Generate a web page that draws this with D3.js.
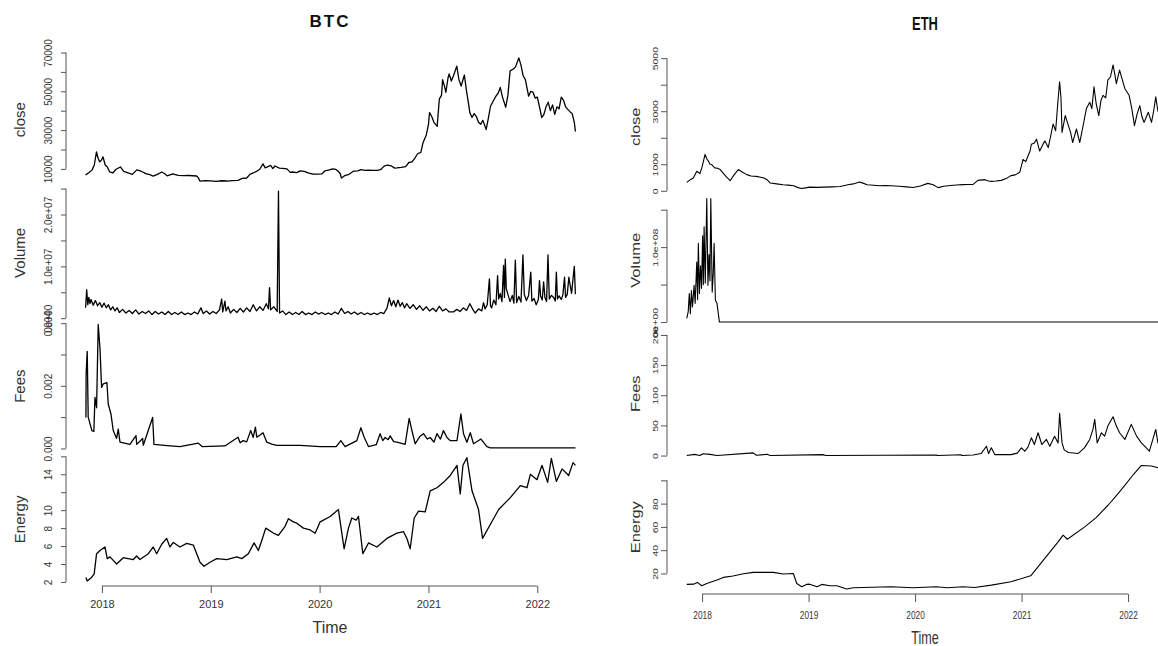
<!DOCTYPE html>
<html>
<head>
<meta charset="utf-8">
<title>BTC / ETH time series</title>
<script src="https://d3js.org/d3.v7.min.js"></script>
<style>
    body { margin:0; background:#fff; }
    svg { display:block; font-family:"Liberation Sans", Arial, sans-serif; }
    /* the series lines */
    .series { fill:none; stroke:#000; stroke-linejoin:round; }
    .axis-line { stroke:#555; stroke-width:1; }
    .panel-label { fill:#333; }
    .title { font-weight:bold; fill:#111; }
</style>
</head>
<body>
<svg id="chart" width="1158" height="646"></svg>
<script>
// ---- data (decimal year, value) ----
const yearTicks = [2018, 2019, 2020, 2021, 2022];
const panelNames = ['close', 'Volume', 'Fees', 'Energy'];

const btcClose = [[2017.85,6900],[2017.88,8000],[2017.91,9500],[2017.93,12000],[2017.95,18800],[2017.965,15500],[2017.98,13600],
    [2017.995,14500],[2018.01,16200],[2018.03,12000],[2018.05,11000],[2018.07,8500],[2018.10,7900],[2018.13,9800],[2018.17,11000],
    [2018.20,8700],[2018.24,8000],[2018.28,7200],[2018.32,9500],[2018.36,8800],[2018.41,7400],[2018.44,7000],[2018.47,6300],
    [2018.51,7200],[2018.55,8400],[2018.58,7400],[2018.60,6400],[2018.65,7400],[2018.70,6700],[2018.75,6500],[2018.80,6600],
    [2018.87,6350],[2018.885,5500],[2018.90,3750],[2018.95,4000],[2019.0,3800],[2019.05,3600],[2019.10,3900],[2019.15,3750],
    [2019.20,4000],[2019.25,4100],[2019.29,5100],[2019.33,5300],[2019.36,7200],[2019.39,7900],[2019.42,8700],[2019.45,9800],
    [2019.48,12600],[2019.50,10500],[2019.52,11000],[2019.55,11800],[2019.57,10200],[2019.59,11500],[2019.63,10400],[2019.66,10300],
    [2019.70,10000],[2019.73,8200],[2019.75,8400],[2019.79,8100],[2019.82,9000],[2019.86,8700],[2019.90,7800],[2019.94,7300],
    [2019.98,7300],[2020.02,7400],[2020.05,9000],[2020.09,9500],[2020.12,10000],[2020.15,9700],[2020.17,8800],[2020.19,7500],
    [2020.20,5300],[2020.23,6500],[2020.27,7200],[2020.31,8800],[2020.35,9000],[2020.38,9600],[2020.42,9200],[2020.45,9400],
    [2020.49,9200],[2020.53,9200],[2020.56,9600],[2020.59,11300],[2020.62,12000],[2020.66,11500],[2020.69,10400],[2020.71,10500],
    [2020.75,10800],[2020.79,11200],[2020.82,13300],[2020.85,13600],[2020.88,16000],[2020.90,17800],[2020.93,18500],[2020.95,23500],
    [2020.98,27500],[2021.0,33000],[2021.01,39000],[2021.03,37000],[2021.05,34000],[2021.08,31900],[2021.10,46000],[2021.12,48000],
    [2021.13,56000],[2021.15,52000],[2021.16,49500],[2021.18,57000],[2021.19,59000],[2021.21,55300],[2021.23,58000],[2021.26,63000],
    [2021.28,56000],[2021.30,52700],[2021.32,56500],[2021.33,58400],[2021.35,50000],[2021.37,43000],[2021.38,39000],[2021.40,36500],
    [2021.42,38500],[2021.44,37000],[2021.46,34000],[2021.48,33000],[2021.50,35000],[2021.53,30300],[2021.55,36000],[2021.57,42300],
    [2021.60,45500],[2021.62,47500],[2021.64,49000],[2021.66,52000],[2021.68,47000],[2021.71,41800],[2021.73,48000],[2021.75,60500],
    [2021.78,61500],[2021.80,62600],[2021.83,67200],[2021.85,63500],[2021.87,58000],[2021.89,56000],[2021.92,47500],[2021.94,50000],
    [2021.96,49600],[2021.98,46500],[2022.0,47000],[2022.02,42000],[2022.04,36500],[2022.06,38000],[2022.08,42000],[2022.10,44400],
    [2022.12,40000],[2022.14,43000],[2022.16,38100],[2022.18,42000],[2022.20,41000],[2022.22,47000],[2022.24,45500],[2022.26,42000],
    [2022.28,40700],[2022.30,39500],[2022.32,38500],[2022.34,34000],[2022.35,29300]];

const btcVolume = [[2017.85,2.0e6],[2017.86,5.5e6],[2017.87,2.6e6],[2017.88,4.0e6],[2017.89,2.8e6],[2017.90,3.6e6],[2017.92,2.5e6],
    [2017.94,3.4e6],[2017.96,2.4e6],[2017.98,3.0e6],[2018.0,2.1e6],[2018.02,2.9e6],[2018.04,2.0e6],[2018.06,2.6e6],[2018.08,1.6e6],
    [2018.10,2.2e6],[2018.12,1.4e6],[2018.14,2.0e6],[2018.16,1.1e6],[2018.19,1.7e6],[2018.22,1.0e6],[2018.25,1.5e6],[2018.28,0.9e6],
    [2018.31,1.6e6],[2018.34,0.8e6],[2018.37,1.3e6],[2018.40,0.9e6],[2018.43,1.4e6],[2018.46,0.7e6],[2018.49,1.3e6],[2018.52,0.8e6],
    [2018.55,1.2e6],[2018.58,0.7e6],[2018.61,1.3e6],[2018.64,0.7e6],[2018.67,1.1e6],[2018.70,0.7e6],[2018.73,1.2e6],[2018.76,0.7e6],
    [2018.79,1.0e6],[2018.82,0.7e6],[2018.85,1.2e6],[2018.88,0.8e6],[2018.91,2.0e6],[2018.93,0.9e6],[2018.96,1.4e6],[2018.99,0.8e6],
    [2019.02,1.3e6],[2019.05,0.9e6],[2019.08,1.6e6],[2019.10,3.7e6],[2019.11,1.2e6],[2019.13,3.3e6],[2019.14,1.4e6],[2019.16,2.2e6],
    [2019.18,1.0e6],[2019.21,1.7e6],[2019.24,1.1e6],[2019.27,1.9e6],[2019.30,1.2e6],[2019.33,2.0e6],[2019.36,1.3e6],[2019.39,2.6e6],
    [2019.42,1.4e6],[2019.45,2.2e6],[2019.48,1.5e6],[2019.51,2.8e6],[2019.53,1.8e6],[2019.54,5.9e6],[2019.55,1.6e6],[2019.58,2.2e6],
    [2019.61,1.3e6],[2019.622,24.5e6],[2019.632,1.0e6],[2019.66,1.4e6],[2019.69,0.7e6],[2019.72,1.2e6],[2019.75,0.7e6],[2019.78,1.1e6],
    [2019.81,0.7e6],[2019.84,1.3e6],[2019.87,0.7e6],[2019.90,1.0e6],[2019.93,0.7e6],[2019.96,1.2e6],[2019.99,0.8e6],[2020.02,1.1e6],
    [2020.05,0.7e6],[2020.08,1.0e6],[2020.11,0.7e6],[2020.14,1.2e6],[2020.17,0.8e6],[2020.20,1.9e6],[2020.23,0.9e6],[2020.26,1.3e6],
    [2020.29,0.8e6],[2020.32,1.2e6],[2020.35,0.7e6],[2020.38,1.1e6],[2020.41,0.7e6],[2020.44,1.0e6],[2020.47,0.7e6],[2020.50,1.0e6],
    [2020.53,0.7e6],[2020.56,1.1e6],[2020.59,0.9e6],[2020.62,2.0e6],[2020.64,3.9e6],[2020.66,2.4e6],[2020.68,3.4e6],[2020.70,2.2e6],
    [2020.72,3.5e6],[2020.74,2.3e6],[2020.76,3.0e6],[2020.78,2.0e6],[2020.80,2.8e6],[2020.83,1.9e6],[2020.86,2.6e6],[2020.89,1.7e6],
    [2020.92,2.4e6],[2020.95,1.5e6],[2020.98,2.2e6],[2021.01,1.4e6],[2021.04,1.9e6],[2021.07,1.3e6],[2021.10,2.3e6],[2021.13,1.4e6],
    [2021.16,1.8e6],[2021.19,1.2e6],[2021.23,1.2e6],[2021.26,1.7e6],[2021.29,1.3e6],[2021.32,2.0e6],[2021.35,1.5e6],[2021.38,2.8e6],
    [2021.41,1.6e6],[2021.43,1.0e6],[2021.46,1.8e6],[2021.49,1.4e6],[2021.506,3.0e6],[2021.52,1.8e6],[2021.54,2.6e6],[2021.56,7.6e6],
    [2021.57,2.4e6],[2021.58,2.0e6],[2021.60,3.5e6],[2021.62,2.6e6],[2021.635,8.2e6],[2021.645,3.7e6],[2021.66,4.8e6],[2021.675,3.2e6],
    [2021.69,10.2e6],[2021.698,4.0e6],[2021.706,11.4e6],[2021.715,5.7e6],[2021.73,4.6e6],[2021.75,3.2e6],[2021.77,4.4e6],[2021.785,2.9e6],
    [2021.798,11.2e6],[2021.81,3.0e6],[2021.83,4.2e6],[2021.85,3.1e6],[2021.868,12.2e6],[2021.88,4.6e6],[2021.90,3.4e6],[2021.92,4.4e6],
    [2021.94,8.9e6],[2021.95,3.3e6],[2021.97,3.8e6],[2021.99,2.6e6],[2022.01,3.6e6],[2022.02,7.25e6],[2022.03,4.3e6],[2022.045,3.5e6],
    [2022.058,7.0e6],[2022.07,4.0e6],[2022.085,3.2e6],[2022.098,12.2e6],[2022.11,3.7e6],[2022.13,4.4e6],[2022.15,4.0e6],[2022.165,3.3e6],
    [2022.175,8.9e6],[2022.185,3.7e6],[2022.20,4.3e6],[2022.22,3.6e6],[2022.235,4.5e6],[2022.25,7.9e6],[2022.26,4.0e6],[2022.275,4.6e6],
    [2022.29,7.9e6],[2022.30,6.6e6],[2022.315,4.8e6],[2022.33,8.0e6],[2022.34,10.0e6],[2022.35,4.6e6]];

const btcFees = [[2017.853,0.00099],[2017.855,0.00238],[2017.865,0.0031],[2017.874,0.001],[2017.908,0.00057],[2017.926,0.00054],
    [2017.936,0.00163],[2017.951,0.0013],[2017.966,0.00396],[2017.982,0.0032],[2017.997,0.00195],[2018.012,0.00206],[2018.046,0.0021],
    [2018.058,0.00142],[2018.083,0.0011],[2018.104,0.00057],[2018.135,0.00032],[2018.15,0.00062],[2018.166,0.0002],[2018.257,0.00013],
    [2018.313,0.00041],[2018.32,0.00013],[2018.374,0.00032],[2018.38,0.0001],[2018.466,0.00099],[2018.478,0.00013],[2018.6,0.00009],
    [2018.717,0.00006],[2018.885,0.00017],[2018.92,0.00006],[2019.13,0.00008],[2019.25,0.00036],[2019.27,0.00018],[2019.297,0.00025],
    [2019.33,0.00021],[2019.367,0.00057],[2019.39,0.00035],[2019.41,0.00068],[2019.423,0.00036],[2019.45,0.00042],[2019.48,0.0005],
    [2019.515,0.0002],[2019.56,0.00014],[2019.607,0.0001],[2019.82,0.0001],[2020.005,0.00006],[2020.152,0.00006],
    [2020.195,0.00025],[2020.234,0.00006],[2020.342,0.00025],[2020.379,0.00066],[2020.41,0.00035],[2020.449,0.00006],[2020.52,0.00012],
    [2020.556,0.00047],[2020.58,0.00025],[2020.602,0.00035],[2020.63,0.00028],[2020.648,0.0004],[2020.68,0.00022],[2020.71,0.0002],
    [2020.786,0.00013],[2020.823,0.00096],[2020.848,0.00057],[2020.878,0.00015],[2020.92,0.00038],[2020.954,0.00047],[2020.99,0.0003],
    [2021.016,0.00035],[2021.05,0.0002],[2021.078,0.00047],[2021.11,0.0003],[2021.138,0.00057],[2021.17,0.00035],[2021.2,0.00025],
    [2021.262,0.00025],[2021.298,0.0011],[2021.322,0.00047],[2021.353,0.0002],[2021.384,0.0005],[2021.414,0.00015],[2021.482,0.0003],
    [2021.537,0.00006],[2021.568,0.00002],[2022.35,0.00002]];

const btcEnergy = [[2017.853,2.5],[2017.865,2.1],[2017.905,2.5],[2017.929,2.9],[2017.951,5.15],[2017.982,5.5],[2018.028,5.9],
    [2018.049,4.6],[2018.074,4.8],[2018.104,4.4],[2018.135,4.0],[2018.196,4.7],[2018.288,4.5],[2018.319,4.9],[2018.349,4.5],
    [2018.426,5.15],[2018.472,5.9],[2018.503,5.15],[2018.549,6.2],[2018.595,6.85],[2018.625,5.9],[2018.656,6.4],[2018.717,5.9],
    [2018.779,6.3],[2018.84,6.1],[2018.871,5.15],[2018.901,4.2],[2018.938,3.75],[2018.993,4.2],[2019.055,4.6],[2019.147,4.5],
    [2019.239,4.8],[2019.285,4.6],[2019.345,5.15],[2019.398,6.36],[2019.437,5.5],[2019.468,6.6],[2019.505,8.0],[2019.575,7.45],
    [2019.621,7.2],[2019.683,8.2],[2019.713,9.05],[2019.759,8.7],[2019.79,8.55],[2019.851,8.0],[2019.913,7.8],[2019.959,7.43],
    [2020.005,8.7],[2020.097,9.3],[2020.173,10.07],[2020.195,8.2],[2020.225,5.7],[2020.265,8.0],[2020.296,9.13],[2020.336,8.9],
    [2020.357,9.3],[2020.397,5.15],[2020.449,6.35],[2020.526,5.9],[2020.618,6.85],[2020.71,7.45],[2020.771,7.6],[2020.802,6.85],
    [2020.832,5.7],[2020.869,9.13],[2020.909,9.9],[2020.97,9.8],[2021.016,12.16],[2021.078,12.5],[2021.138,13.1],[2021.2,13.87],
    [2021.262,15.0],[2021.292,11.8],[2021.317,15.0],[2021.353,15.85],[2021.40,12.16],[2021.46,10.07],[2021.497,6.86],[2021.568,8.4],
    [2021.645,10.07],[2021.752,11.4],[2021.844,12.73],[2021.905,12.5],[2021.936,14.0],[2021.997,13.4],[2022.043,15.0],[2022.095,13.1],
    [2022.129,15.77],[2022.175,13.2],[2022.227,14.6],[2022.288,13.87],[2022.328,15.3],[2022.35,15.0]];

const ethClose = [[2017.856,317],[2017.89,420],[2017.918,485],[2017.95,737],[2017.98,650],[2018.0,900],[2018.028,1374],[2018.045,1200],
    [2018.06,1118],[2018.075,1000],[2018.09,990],[2018.105,920],[2018.12,865],[2018.145,850],[2018.17,800],[2018.22,560],[2018.263,380],
    [2018.30,600],[2018.34,800],[2018.38,700],[2018.42,610],[2018.46,560],[2018.51,545],[2018.55,510],[2018.58,485],[2018.61,420],
    [2018.64,293],[2018.70,260],[2018.76,230],[2018.81,215],[2018.86,190],[2018.90,120],[2018.936,85],[2018.97,110],[2019.01,140],
    [2019.08,130],[2019.14,140],[2019.22,150],[2019.296,165],[2019.37,230],[2019.42,260],[2019.477,330],[2019.51,290],[2019.55,230],
    [2019.61,210],[2019.67,190],[2019.72,200],[2019.775,190],[2019.85,170],[2019.92,150],[2019.98,127],[2020.05,180],[2020.12,280],
    [2020.17,230],[2020.216,120],[2020.27,170],[2020.33,200],[2020.39,220],[2020.45,235],[2020.50,240],[2020.545,240],[2020.59,393],
    [2020.655,420],[2020.69,370],[2020.716,355],[2020.76,370],[2020.81,393],[2020.86,470],[2020.90,572],[2020.94,600],[2020.983,699],
    [2021.014,1183],[2021.04,1100],[2021.06,1310],[2021.08,1500],[2021.092,1756],[2021.12,1800],[2021.14,1947],[2021.17,1500],
    [2021.20,1750],[2021.22,1883],[2021.25,1630],[2021.27,2000],[2021.296,2519],[2021.32,2265],[2021.34,3300],[2021.357,4110],
    [2021.37,3500],[2021.38,2200],[2021.41,2837],[2021.44,2456],[2021.46,2200],[2021.48,1820],[2021.515,2330],[2021.546,1820],
    [2021.58,2500],[2021.608,3090],[2021.64,3340],[2021.66,3100],[2021.68,3920],[2021.70,3300],[2021.725,2837],[2021.745,3400],
    [2021.765,3600],[2021.79,3500],[2021.81,4170],[2021.835,4300],[2021.859,4745],[2021.875,4400],[2021.89,4040],[2021.92,4550],
    [2021.945,4200],[2021.97,3850],[2022.01,3600],[2022.035,3100],[2022.06,2456],[2022.085,2900],[2022.11,3210],[2022.13,2800],
    [2022.15,2580],[2022.19,2960],[2022.22,2580],[2022.24,3000],[2022.26,3540],[2022.28,3000],[2022.33,2800],[2022.37,2100],
    [2022.42,1950],[2022.49,1800]];

const ethVolume = [[2017.856,4.9e6],[2017.87,1.4e7],[2017.88,3.8e7],[2017.89,1.1e7],[2017.90,4.2e7],[2017.91,2.0e7],[2017.925,4.9e7],
    [2017.935,2.5e7],[2017.95,8.0e7],[2017.958,3.0e7],[2017.965,1.05e8],[2017.975,3.8e7],[2017.985,7.5e7],[2017.995,4.5e7],
    [2018.005,1.15e8],[2018.012,5.0e7],[2018.019,1.27e8],[2018.03,5.2e7],[2018.044,1.65e8],[2018.055,4.9e7],[2018.065,9.0e7],
    [2018.074,5.5e7],[2018.082,1.65e8],[2018.095,4.0e7],[2018.105,6.5e7],[2018.113,1.05e8],[2018.125,2.9e7],[2018.14,2.5e7],
    [2018.163,0],[2022.49,0]];

const ethFees = [[2017.856,0],[2017.93,2],[2017.98,0],[2018.01,3],[2018.075,2],[2018.14,0],[2018.48,4.4],[2018.51,0.5],[2018.61,2],
    [2018.64,0],[2019.14,1.5],[2019.16,0],[2020.2,1.0],[2020.21,0],[2020.43,1.3],[2020.44,0],[2020.545,1],[2020.62,3.3],[2020.67,15.5],
    [2020.69,3.3],[2020.716,12.8],[2020.75,1.5],[2020.9,1.5],[2020.96,4],[2020.998,12.8],[2021.03,7.2],[2021.06,14],[2021.092,29.4],
    [2021.12,18.3],[2021.155,37.8],[2021.19,18.3],[2021.233,26.7],[2021.265,15.5],[2021.31,32.2],[2021.343,21],[2021.357,70],
    [2021.38,21],[2021.40,9.4],[2021.44,5],[2021.53,3.3],[2021.59,12.8],[2021.64,26.7],[2021.67,43.3],[2021.687,60],[2021.71,21],
    [2021.75,37.8],[2021.78,32.2],[2021.81,48.9],[2021.859,64.4],[2021.89,48.9],[2021.92,37.8],[2021.97,26.7],[2022.03,51.7],
    [2022.08,32.2],[2022.125,21],[2022.20,7.2],[2022.26,43.3],[2022.28,21],[2022.31,30],[2022.33,205],[2022.345,25],[2022.40,15],
    [2022.49,12]];

const ethEnergy = [[2017.856,10.6],[2017.92,10.8],[2017.956,12.3],[2017.997,9.4],[2018.044,11.4],[2018.14,14.3],[2018.2,16.6],
    [2018.29,17.8],[2018.388,19.7],[2018.48,20.9],[2018.67,20.9],[2018.76,19.5],[2018.857,20],[2018.889,11.4],[2018.936,8.6],
    [2018.98,10.6],[2019.01,10.8],[2019.08,8.6],[2019.124,10.6],[2019.20,9.4],[2019.265,9.4],[2019.358,6.6],[2019.42,7.7],
    [2019.775,8.6],[2019.98,7.7],[2020.2,8.6],[2020.3,7.7],[2020.45,8.6],[2020.56,8.0],[2020.716,10],[2020.9,12.9],[2021.086,18],
    [2021.218,32.9],[2021.343,47.2],[2021.39,52.9],[2021.43,49.4],[2021.593,60],[2021.7,68],[2021.812,78.6],[2021.9,88],
    [2021.969,95.7],[2022.05,105],[2022.125,112.8],[2022.219,112.3],[2022.28,110.8],[2022.38,108],[2022.49,105]];

// tick values and their printed labels ('' = tick without label)
const btcTicks = [
    [10000, 20000, 30000, 40000, 50000, 60000, 70000],
    [0, 5e6, 1e7, 1.5e7, 2e7, 2.5e7],
    [0, 0.001, 0.002, 0.003, 0.004],
    [2, 4, 6, 8, 10, 12, 14, 16]];
const btcLabels = [
    ['10000', '', '30000', '', '50000', '', '70000'],
    ['0e+00', '', '1.0e+07', '', '2.0e+07', ''],
    ['0.000', '', '0.002', '', '0.004'],
    ['2', '4', '6', '8', '10', '', '14', '']];
const ethTicks = [
    [0, 1000, 2000, 3000, 4000, 5000],
    [0, 5e7, 1e8, 1.5e8],
    [0, 50, 100, 150, 200],
    [20, 40, 60, 80, 100]];
const ethLabels = [
    ['0', '1000', '', '3000', '', '5000'],
    ['0e+00', '', '1.0e+08', ''],
    ['0', '50', '100', '150', '200'],
    ['20', '40', '60', '80', '']];

// ---- drawing ----
const svg = d3.select('#chart');

// R style range: data extent widened by 4% on each side
function padded(ext) {
    const r = ext[1] - ext[0];
    return [ext[0] - 0.04 * r, ext[1] + 0.04 * r];
}

function drawCoin(cfg) {
    const g = svg.append('g');
    const sq = cfg.squash;
    const x = d3.scaleLinear()
        .domain(padded(d3.extent(cfg.series[0], d => d[0])))
        .range([cfg.left, cfg.right]);
    const h = (cfg.bottom - cfg.top) / cfg.series.length;

    cfg.series.forEach((data, i) => {
        const top = cfg.top + i * h;
        const y = d3.scaleLinear()
            .domain(padded(d3.extent(data, d => d[1])))
            .range([top + h, top]);

        g.append('path')
            .datum(data)
            .attr('class', 'series')
            .attr('stroke-width', cfg.lineWidth)
            .attr('d', d3.line().x(d => x(d[0])).y(d => y(d[1])));

        const ticks = cfg.ticks[i];
        const labels = cfg.labels[i];
        const ax = g.append('g')
            .attr('transform', `translate(${cfg.left},0)`)
            .call(d3.axisLeft(y).tickValues(ticks).tickFormat((d, j) => labels[j]).tickSize(cfg.tickY));
        ax.attr('font-family', null).attr('font-size', null).style('color', '#555');
        ax.select('.domain').remove();
        ax.append('line')
            .attr('class', 'axis-line')
            .attr('y1', y(ticks[0]))
            .attr('y2', y(ticks[ticks.length - 1]));
        ax.selectAll('text')
            .attr('x', 0).attr('dy', 0)
            .attr('text-anchor', 'middle')
            .attr('fill', '#333')
            .style('font-size', cfg.tickFont + 'px')
            .attr('transform', `translate(${-cfg.tickLabelOff},0) scale(${sq},1) rotate(-90)`);

        // panel name on the left
        g.append('text')
            .attr('class', 'panel-label')
            .attr('text-anchor', 'middle')
            .style('font-size', cfg.nameFont + 'px')
            .attr('transform', `translate(${cfg.nameX},${top + h / 2}) scale(${sq},1) rotate(-90)`)
            .text(panelNames[i]);
    });

    // time axis under the last panel
    const xa = g.append('g')
        .attr('transform', `translate(0,${cfg.bottom})`)
        .call(d3.axisBottom(x).tickValues(yearTicks).tickFormat(d3.format('d')).tickSize(cfg.tickX));
    xa.attr('font-family', null).attr('font-size', null).style('color', '#555');
    xa.select('.domain').remove();
    xa.append('line')
        .attr('class', 'axis-line')
        .attr('x1', x(yearTicks[0]))
        .attr('x2', x(yearTicks[yearTicks.length - 1]));
    xa.selectAll('text')
        .attr('y', cfg.yearLabelOff).attr('dy', 0)
        .attr('fill', '#333')
        .style('font-size', cfg.yearFont + 'px')
        .attr('transform', `scale(${sq},1)`);

    g.append('text')
        .attr('class', 'panel-label')
        .attr('text-anchor', 'middle')
        .style('font-size', cfg.timeFont + 'px')
        .attr('transform', `translate(${cfg.centerX},${cfg.timeY}) scale(${sq},1)`)
        .text('Time');

    g.append('text')
        .attr('class', 'title')
        .attr('text-anchor', 'middle')
        .style('font-size', cfg.titleFont + 'px')
        .style('letter-spacing', cfg.titleSpacing + 'px')
        .attr('transform', `translate(${cfg.centerX},${cfg.titleY}) scale(${sq},1)`)
        .text(cfg.title);
}

drawCoin({
    title: 'BTC', series: [btcClose, btcVolume, btcFees, btcEnergy], ticks: btcTicks, labels: btcLabels,
    left: 66, right: 595, top: 53, bottom: 586, squash: 1, lineWidth: 1.3,
    tickY: 5, tickX: 7, tickFont: 10, tickLabelOff: 14, nameFont: 15, nameX: 25,
    yearFont: 11, yearLabelOff: 22, timeFont: 16, timeY: 633, centerX: 330,
    titleFont: 17, titleSpacing: 2, titleY: 27
});

drawCoin({
    title: 'ETH', series: [ethClose, ethVolume, ethFees, ethEnergy], ticks: ethTicks, labels: ethLabels,
    left: 667, right: 1200, top: 60, bottom: 594, squash: 0.72, lineWidth: 1.1,
    tickY: 6, tickX: 8, tickFont: 10.5, tickLabelOff: 9, nameFont: 16.5, nameX: 640,
    yearFont: 11.5, yearLabelOff: 25, timeFont: 17.5, timeY: 644, centerX: 925,
    titleFont: 18, titleSpacing: 0, titleY: 30
});
</script>
</body>
</html>
